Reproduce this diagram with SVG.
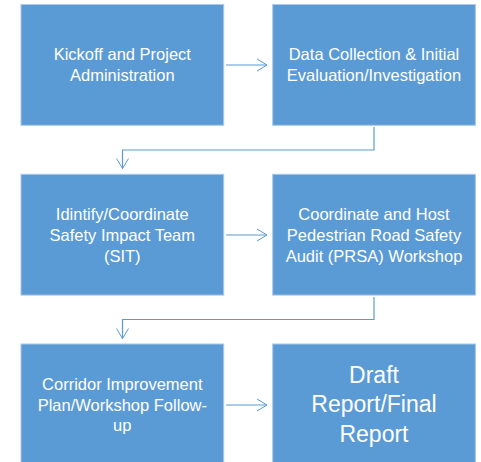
<svg xmlns="http://www.w3.org/2000/svg" width="481" height="462" viewBox="0 0 481 462">
  <defs>
    <marker id="arrow" viewBox="0 0 12 14" refX="11" refY="7" markerWidth="12" markerHeight="14" markerUnits="userSpaceOnUse" orient="auto">
      <path d="M1,1 L11,7 L1,13" fill="none" stroke="#5B9BD5" stroke-width="1"/>
    </marker>
  </defs>
  <style>
    .box { fill: #5B9BD5; stroke: #A9C8EA; stroke-width: 1; }
    .lbl { fill: #FFFFFF; font-family: "Liberation Sans", Arial, sans-serif; font-size: 16.5px; text-anchor: middle; }
    .big { font-size: 23px; }
    .conn { fill: none; stroke: #5B9BD5; stroke-width: 1.2; marker-end: url(#arrow); }
  </style>
  <rect width="481" height="462" fill="#FFFFFF"/>

  <g id="connectors">
    <path class="conn" d="M226,65 H267"/>
    <path class="conn" d="M374,127 V150 H122.5 V168.5"/>
    <path class="conn" d="M226,235 H267"/>
    <path class="conn" d="M374,297 V319.5 H122.5 V338.5"/>
    <path class="conn" d="M226,405 H267"/>
  </g>

  <g id="kickoff">
    <rect class="box" x="21" y="4.5" width="202.7" height="120.8"/>
    <text class="lbl" x="122.3" y="60">Kickoff and Project</text>
    <text class="lbl" x="122.3" y="81">Administration</text>
  </g>

  <g id="data-collection">
    <rect class="box" x="272.7" y="4.5" width="202.7" height="120.8"/>
    <text class="lbl" x="374" y="60">Data Collection &amp; Initial</text>
    <text class="lbl" x="374" y="81">Evaluation/Investigation</text>
  </g>

  <g id="sit">
    <rect class="box" x="21" y="174.3" width="202.7" height="120.8"/>
    <text class="lbl" x="122.3" y="220">Idintify/Coordinate</text>
    <text class="lbl" x="122.3" y="241">Safety Impact Team</text>
    <text class="lbl" x="122.3" y="262">(SIT)</text>
  </g>

  <g id="prsa">
    <rect class="box" x="272.7" y="174.3" width="202.7" height="120.8"/>
    <text class="lbl" x="374" y="220">Coordinate and Host</text>
    <text class="lbl" x="374" y="241">Pedestrian Road Safety</text>
    <text class="lbl" x="374" y="262">Audit (PRSA) Workshop</text>
  </g>

  <g id="corridor">
    <rect class="box" x="21" y="344" width="202.7" height="120.8"/>
    <text class="lbl" x="122.3" y="390">Corridor Improvement</text>
    <text class="lbl" x="122.3" y="410.5">Plan/Workshop Follow-</text>
    <text class="lbl" x="122.3" y="431">up</text>
  </g>

  <g id="report">
    <rect class="box" x="272.7" y="344" width="202.7" height="120.8"/>
    <text class="lbl big" x="374" y="383">Draft</text>
    <text class="lbl big" x="374" y="412">Report/Final</text>
    <text class="lbl big" x="374" y="441.5">Report</text>
  </g>
</svg>
